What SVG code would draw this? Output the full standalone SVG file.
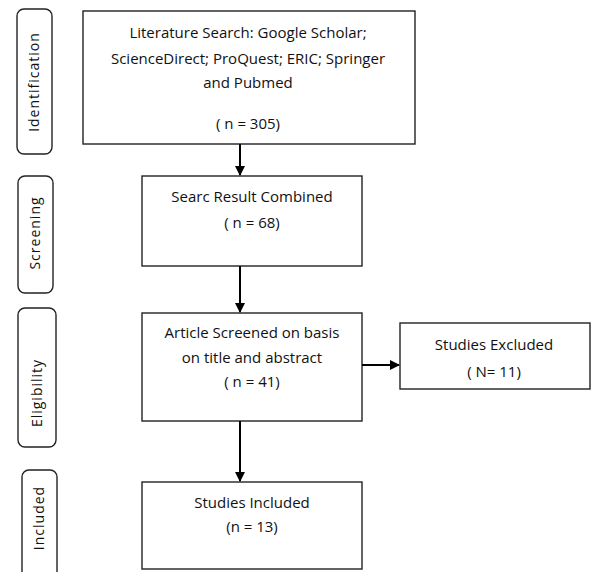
<svg xmlns="http://www.w3.org/2000/svg" width="591" height="572" viewBox="0 0 591 572">
<style>
.box{fill:#fff;stroke:#222;stroke-width:1.4}
.lab{fill:#fff;stroke:#222;stroke-width:1.4}
.t{font-family:"Open Sans","Liberation Sans",sans-serif;font-size:15px;fill:#111;text-anchor:middle}
.v{font-family:"Open Sans","Liberation Sans",sans-serif;font-size:14px;letter-spacing:1px;fill:#111;text-anchor:middle}
.c{stroke:#000;stroke-width:2;fill:none;marker-end:url(#ah)}
</style>
<defs>
<marker id="ah" viewBox="0 0 10 10" refX="9" refY="5" markerWidth="5" markerHeight="5" orient="auto" markerUnits="strokeWidth">
<path d="M0,0 L10,5 L0,10 z" fill="#000"/>
</marker>
</defs>
<rect width="591" height="572" fill="#fff"/>
<g id="stage-identification">
<rect class="lab" x="17" y="9" width="35" height="145" rx="7"/>
<text class="v" transform="translate(39,82) rotate(-90)">Identification</text>
</g>
<g id="stage-screening">
<rect class="lab" x="18" y="176" width="35" height="117" rx="7"/>
<text class="v" transform="translate(40,233) rotate(-90)">Screening</text>
</g>
<g id="stage-eligibility">
<rect class="lab" x="18" y="308" width="38" height="139" rx="7"/>
<text class="v" transform="translate(42,393) rotate(-90)">Eligibility</text>
</g>
<g id="stage-included">
<rect class="lab" x="22" y="470" width="35" height="110" rx="7"/>
<text class="v" transform="translate(44,518) rotate(-90)">Included</text>
</g>
<g id="n-search">
<rect class="box" x="83" y="11" width="332" height="133"/>
<text class="t" x="248" y="38">Literature Search: Google Scholar;</text>
<text class="t" x="248" y="64">ScienceDirect; ProQuest; ERIC; Springer</text>
<text class="t" x="248" y="88">and Pubmed</text>
<text class="t" x="248" y="129">( n = 305)</text>
</g>
<g id="n-combined">
<rect class="box" x="142" y="176" width="220" height="90"/>
<text class="t" x="252" y="202">Searc Result Combined</text>
<text class="t" x="252" y="228">( n = 68)</text>
</g>
<g id="n-screened">
<rect class="box" x="142" y="313" width="220" height="108"/>
<text class="t" x="252" y="338">Article Screened on basis</text>
<text class="t" x="252" y="363">on title and abstract</text>
<text class="t" x="252" y="387">( n = 41)</text>
</g>
<g id="n-excluded">
<rect class="box" x="400" y="323" width="190" height="66"/>
<text class="t" x="494" y="350">Studies Excluded</text>
<text class="t" x="494" y="377">( N= 11)</text>
</g>
<g id="n-included">
<rect class="box" x="142" y="482" width="220" height="87"/>
<text class="t" x="252" y="508">Studies Included</text>
<text class="t" x="252" y="532">(n = 13)</text>
</g>
<g id="connectors">
<line class="c" x1="240" y1="144" x2="240" y2="175"/>
<line class="c" x1="240" y1="266" x2="240" y2="312"/>
<line class="c" x1="240" y1="421" x2="240" y2="481"/>
<line class="c" x1="362" y1="365" x2="399" y2="365"/>
</g>
</svg>
